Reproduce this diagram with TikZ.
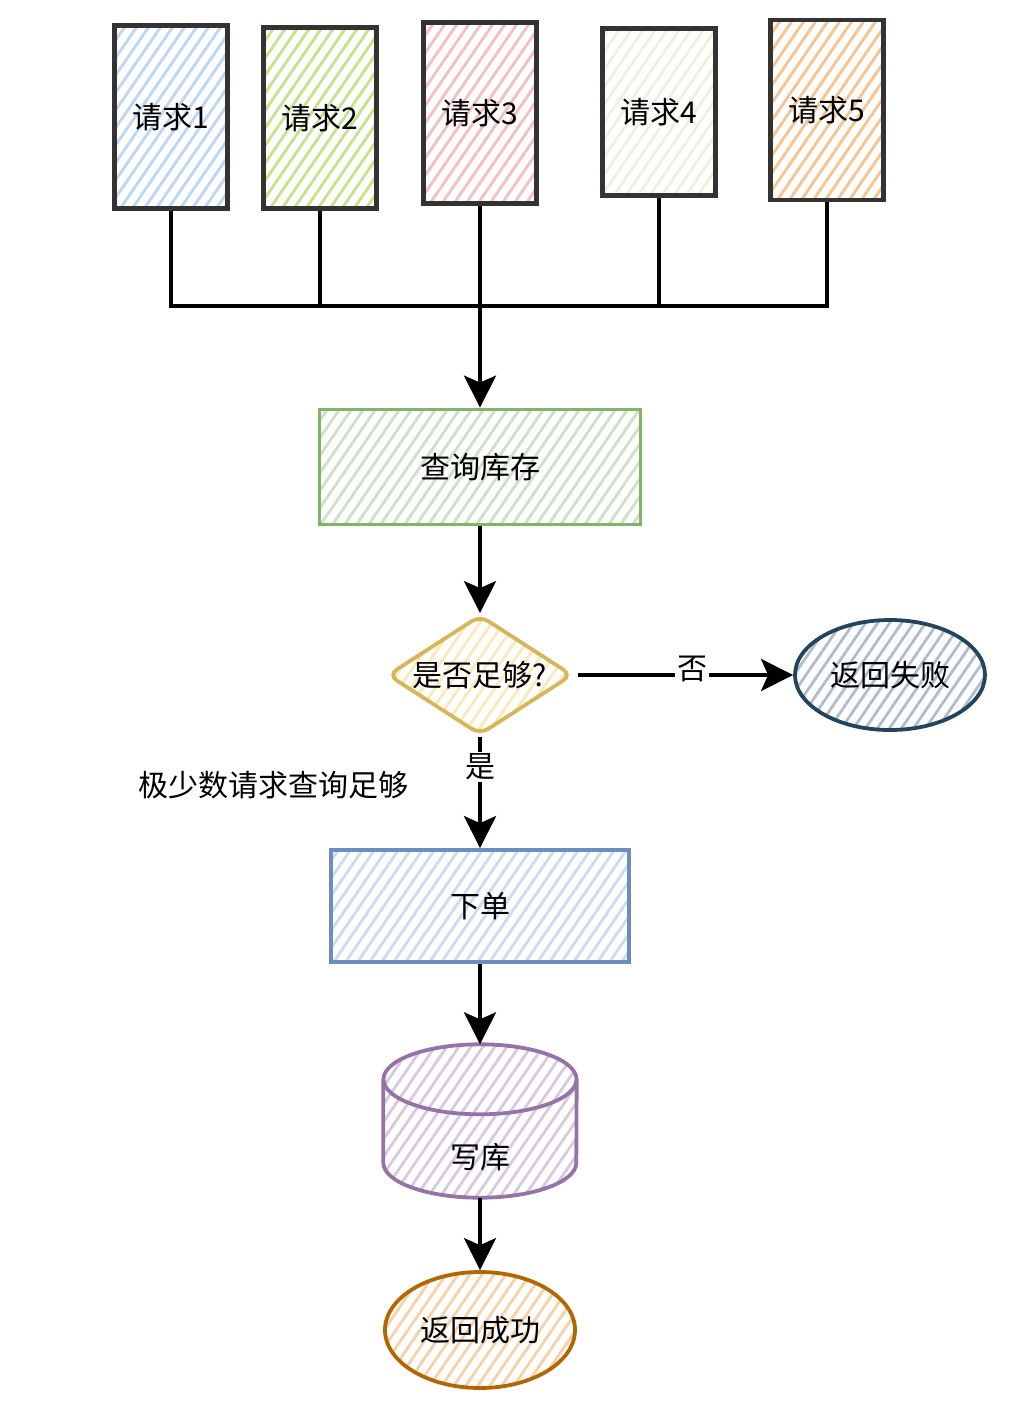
\documentclass[tikz,border=0pt]{standalone}
\usepackage{fontspec}
\setmainfont{Noto Sans CJK SC}
\usetikzlibrary{shapes.geometric,arrows.meta,calc}
\definecolor{dk}{HTML}{333333}
\definecolor{h1}{HTML}{BDD6F5}
\definecolor{h2}{HTML}{C5E38A}
\definecolor{h3}{HTML}{F4BFBE}
\definecolor{h4}{HTML}{F3EEDD}
\definecolor{h5}{HTML}{F8C38F}
\definecolor{sgreen}{HTML}{82B366}\definecolor{hgreen}{HTML}{CBE2C6}
\definecolor{syel}{HTML}{D6B656}\definecolor{hyel}{HTML}{F9EABB}
\definecolor{snavy}{HTML}{23445D}\definecolor{hnavy}{HTML}{AFBECC}
\definecolor{sblue}{HTML}{6C8EBF}\definecolor{hblue}{HTML}{CADCF2}
\definecolor{spurp}{HTML}{9673A6}\definecolor{hpurp}{HTML}{D8C9E2}
\definecolor{sbrown}{HTML}{B46504}\definecolor{hbrown}{HTML}{F8D2A6}
\tikzset{
  hatch/.style={path picture={\foreach \k in {-420,-408,...,420}{\draw[#1,line width=2.8pt] ([xshift=\k pt]path picture bounding box.center) ++(-120,-175) -- ++(240,350);}}},
  reqbox/.style={draw=dk,line width=4.5pt,minimum width=113pt,inner sep=0pt,font=\fontsize{30}{34}\selectfont},
  procbox/.style={line width=3.8pt,inner sep=0pt,font=\fontsize{30}{34}\selectfont},
  conn/.style={line width=3.8pt,black},
  arr/.style={conn,-{Stealth[length=32pt,width=32pt,inset=7pt]}},
  lbl/.style={font=\fontsize{30}{34}\selectfont,fill=white,inner sep=2pt},
}
\begin{document}
\begin{tikzpicture}[x=1pt,y=1pt]
\useasboundingbox (0,0) rectangle (1030,-1406);
% requests
\node[reqbox,minimum height=183pt,hatch=h1] (q1) at (171,-117) {请求1};
\node[reqbox,minimum height=181pt,hatch=h2] (q2) at (320,-118) {请求2};
\node[reqbox,minimum height=181pt,hatch=h3] (q3) at (480,-113) {请求3};
\node[reqbox,minimum height=167pt,hatch=h4] (q4) at (659,-112) {请求4};
\node[reqbox,minimum height=180pt,hatch=h5] (q5) at (827,-110) {请求5};
\coordinate (bus) at (480,-306);
% process
\node[procbox,draw=sgreen,minimum width=321pt,minimum height=115pt,hatch=hgreen] (qk) at (480,-467) {查询库存};
\node[procbox,draw=syel,diamond,aspect=1.55,minimum width=185pt,minimum height=120pt,rounded corners=10pt,hatch=hyel] (dec) at (480,-675) {是否足够?};
\node[procbox,draw=snavy,ellipse,minimum width=190pt,minimum height=110pt,hatch=hnavy] (fail) at (890,-675) {返回失败};
\node[procbox,draw=sblue,minimum width=298pt,minimum height=112pt,hatch=hblue] (xd) at (480,-906) {下单};
\node[inner sep=0pt,minimum width=193pt,minimum height=153pt] (wk) at (480,-1121) {};
\node[procbox,draw=sbrown,ellipse,minimum width=190pt,minimum height=116pt,hatch=hbrown] (ok) at (480,-1330) {返回成功};
\node[font=\fontsize{30}{34}\selectfont,inner sep=0pt] (note) at (273,-785) {极少数请求查询足够};
% cylinder
\path[hatch=hpurp] ($(wk.north west)+(0,-35)$) -- ($(wk.south west)+(0,35)$) arc[start angle=180,end angle=360,x radius=96.5,y radius=35] -- ($(wk.north east)+(0,-35)$) arc[start angle=0,end angle=180,x radius=96.5,y radius=35] -- cycle;
\draw[line width=3.8pt,draw=spurp] ($(wk.north west)+(0,-35)$) -- ($(wk.south west)+(0,35)$) arc[start angle=180,end angle=360,x radius=96.5,y radius=35] -- ($(wk.north east)+(0,-35)$);
\draw[line width=3.8pt,draw=spurp] ($(wk.north)+(0,-35)$) ellipse[x radius=96.5,y radius=35];
\node[font=\fontsize{30}{34}\selectfont,inner sep=0pt] (wkl) at ($(wk.center)+(0,-36)$) {写库};
% connectors
\draw[conn] (q1.south) |- (bus) -| (q5.south);
\draw[conn] (q2.south) -- (q2.south |- bus);
\draw[conn] (q4.south) -- (q4.south |- bus);
\draw[arr] (q3.south) -- (qk.north);
\draw[arr] (qk.south) -- (dec.north);
\draw[arr] ([xshift=4pt]dec.east) -- node[lbl,pos=0.53,yshift=6pt] {否} (fail.west);
\draw[arr] (dec.south) -- node[lbl,pos=0.27] {是} (xd.north);
\draw[arr] (xd.south) -- (wk.north);
\draw[arr] (wk.south) -- (ok.north);
\end{tikzpicture}
\end{document}
